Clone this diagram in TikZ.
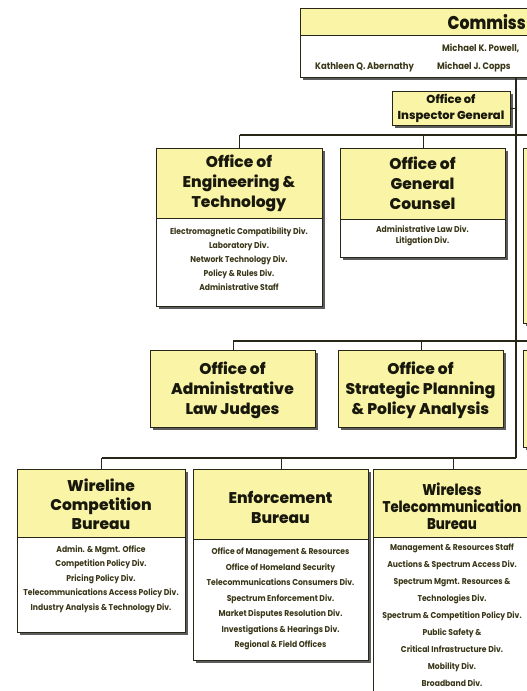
\documentclass[tikz,border=0pt]{standalone}
\usepackage{fontspec}
\setmainfont{Poppins}
\newfontfamily\lfont{Poppins}[FakeStretch=0.9]
\newfontfamily\hfont{Poppins}[BoldFont={Poppins ExtraBold}]
\newfontfamily\cfont{Poppins}[BoldFont={Poppins ExtraBold},FakeStretch=0.85]
\usetikzlibrary{shadows}
\definecolor{yel}{RGB}{249,244,166}
\definecolor{edgec}{RGB}{40,38,22}
\definecolor{ltxt}{RGB}{58,54,24}
\definecolor{htxt}{RGB}{25,24,12}
\tikzset{
 obox/.style={draw=edgec, line width=1.3pt, fill=white, anchor=north west, inner sep=0pt,
   drop shadow={shadow xshift=2.5pt, shadow yshift=-2.5pt, fill=black!75, opacity=0.85}},
 hbox/.style={draw=edgec, line width=1.3pt, fill=yel, anchor=north west, inner sep=0pt},
 sbox/.style={hbox, drop shadow={shadow xshift=2.5pt, shadow yshift=-2.5pt, fill=black!75, opacity=0.85}},
 htext/.style={font=\hfont\bfseries\fontsize{15.5}{20}\selectfont, text=htxt, align=center, inner sep=0pt},
 ltext/.style={font=\lfont\bfseries\fontsize{8.5}{14}\selectfont, text=ltxt, align=center, inner sep=0pt},
 ntext/.style={font=\lfont\bfseries\fontsize{9.4}{10}\selectfont, text=ltxt, anchor=west, inner sep=0pt},
 conn/.style={draw=edgec, line width=1.1pt},
}
\begin{document}
\begin{tikzpicture}[x=1pt,y=-1pt]
\useasboundingbox (0,0) rectangle (527,691);
\clip (0,0) rectangle (527,691);
% Commissioners
\node[obox, minimum width=240, minimum height=69] (comm) at (300,8) {};
\node[hbox, minimum width=240, minimum height=27] (commH) at (300,8) {};
\node[font=\cfont\bfseries\fontsize{18.5}{22}\selectfont, text=htxt, anchor=east, inner sep=0pt] (commT) at (526,22) {Commiss};
\node[ntext] (powell) at (442,48) {Michael K. Powell,};
\node[ntext] (aber) at (315,67) {Kathleen Q. Abernathy};
\node[ntext] (copps) at (437,67) {Michael J. Copps};
% Inspector General
\node[sbox, minimum width=118, minimum height=34] (ig) at (392,91) {};
\node[htext, font=\hfont\bfseries\fontsize{11.5}{16}\selectfont] (igT) at (451,108) {Office of\\Inspector General};
% right partial boxes
\node[sbox, minimum width=30, minimum height=175] (rb2) at (523,148) {};
\node[sbox, minimum width=30, minimum height=97] (rb3) at (523,350) {};
% Engineering & Technology
\node[obox, minimum width=166, minimum height=158] (eng) at (156,148) {};
\node[hbox, minimum width=166, minimum height=70] (engH) at (156,148) {};
\node[htext] (engT) at (239,183) {Office of\\Engineering \&\\Technology};
\node[ltext] (engL) at (239,259) {Electromagnetic Compatibility Div.\\Laboratory Div.\\Network Technology Div.\\Policy \& Rules Div.\\Administrative Staff};
% General Counsel
\node[obox, minimum width=165, minimum height=109] (gc) at (340,148) {};
\node[hbox, minimum width=165, minimum height=71] (gcH) at (340,148) {};
\node[htext] (gcT) at (422.5,183.5) {Office of\\General\\Counsel};
\node[ltext, font=\lfont\bfseries\fontsize{8.5}{11}\selectfont] (gcL) at (422.5,236) {Administrative Law Div.\\Litigation Div.};
% ALJ and Strategic Planning
\node[sbox, minimum width=165, minimum height=77] (alj) at (150,350) {};
\node[htext] (aljT) at (232.5,390) {Office of\\Administrative\\Law Judges};
\node[sbox, minimum width=165, minimum height=77] (spa) at (338,350) {};
\node[htext] (spaT) at (420.5,390) {Office of\\Strategic Planning\\\& Policy Analysis};
% Wireline
\node[obox, minimum width=168, minimum height=163] (wl) at (17,469) {};
\node[hbox, minimum width=168, minimum height=68] (wlH) at (17,469) {};
\node[htext, font=\hfont\bfseries\fontsize{15.5}{19}\selectfont] (wlT) at (101,504) {Wireline\\Competition\\Bureau};
\node[ltext, font=\lfont\bfseries\fontsize{8.5}{14.5}\selectfont] (wlL) at (101,579) {Admin. \& Mgmt. Office\\Competition Policy Div.\\Pricing Policy Div.\\Telecommunications Access Policy Div.\\Industry Analysis \& Technology Div.};
% Enforcement
\node[obox, minimum width=175, minimum height=191] (enf) at (193,469) {};
\node[hbox, minimum width=175, minimum height=70] (enfH) at (193,469) {};
\node[htext] (enfT) at (280.5,507) {Enforcement\\Bureau};
\node[ltext, font=\lfont\bfseries\fontsize{8.5}{15.5}\selectfont] (enfL) at (280.5,599) {Office of Management \& Resources\\Office of Homeland Security\\Telecommunications Consumers Div.\\Spectrum Enforcement Div.\\Market Disputes Resolution Div.\\Investigations \& Hearings Div.\\Regional \& Field Offices};
% Wireless
\node[obox, minimum width=160, minimum height=240] (wt) at (373,469) {};
\node[hbox, minimum width=160, minimum height=68] (wtH) at (373,469) {};
\node[htext, font=\cfont\bfseries\fontsize{15.5}{17}\selectfont] (wtT) at (452,506) {Wireless\\Telecommunication\\Bureau};
\node[ltext, font=\lfont\bfseries\fontsize{8.5}{17}\selectfont] (wtL) at (452,615) {Management \& Resources Staff\\Auctions \& Spectrum Access Div.\\Spectrum Mgmt. Resources \&\\Technologies Div.\\Spectrum \& Competition Policy Div.\\Public Safety \&\\Critical Infrastructure Div.\\Mobility Div.\\Broadband Div.};
% connectors
\coordinate (spine) at (516,458);
\coordinate (bus2) at (540,135);
\coordinate (bus3) at (540,341);
\draw[conn] (comm.south -| spine) -- (spine);
\draw[conn] (ig.east) -- (ig.east -| spine);
\draw[conn] (eng.north |- bus2) -- (bus2);
\draw[conn] (eng.north |- bus2) -- (eng.north);
\draw[conn] (gc.north |- bus2) -- (gc.north);
\draw[conn] (alj.north |- bus3) -- (bus3);
\draw[conn] (alj.north |- bus3) -- (alj.north);
\draw[conn] (spa.north |- bus3) -- (spa.north);
\draw[conn] (wl.north |- spine) -- (spine);
\draw[conn] (wl.north |- spine) -- (wl.north);
\draw[conn] (enf.north |- spine) -- (enf.north);
\draw[conn] (wt.north |- spine) -- (wt.north);
\end{tikzpicture}
\end{document}
